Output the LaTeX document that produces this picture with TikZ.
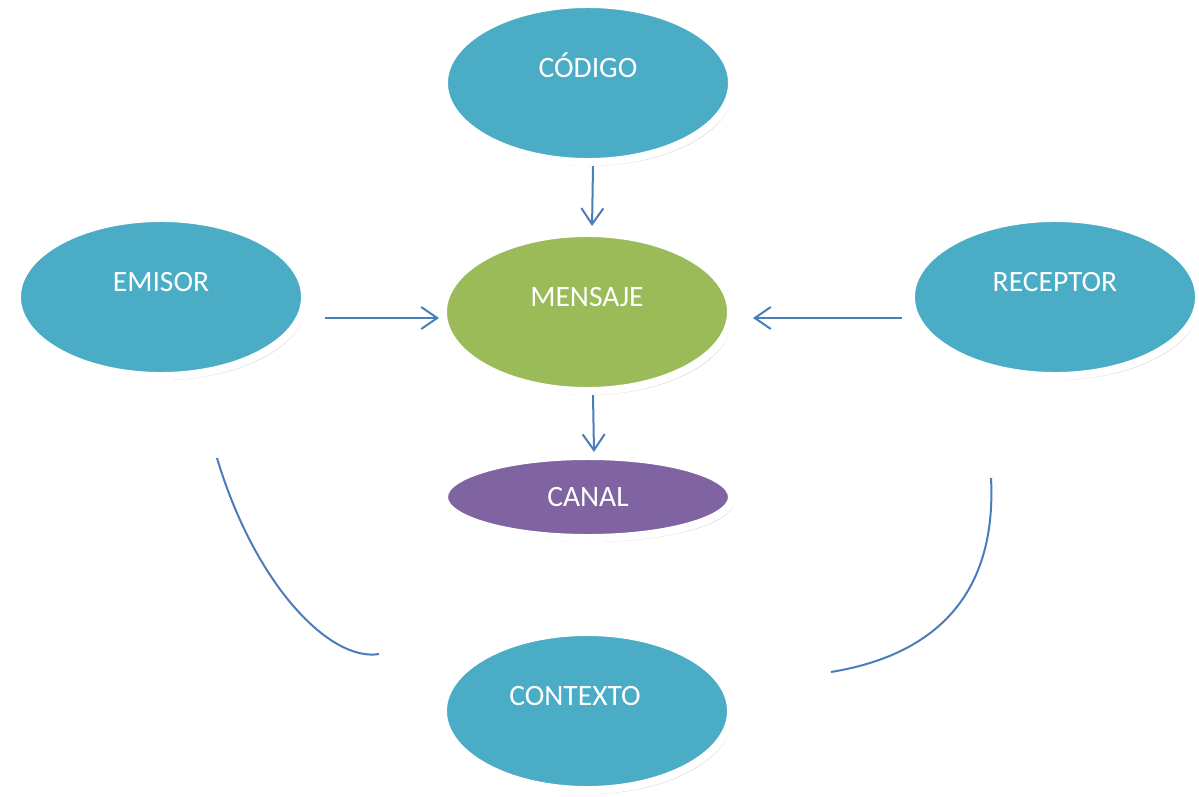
\documentclass[tikz,border=0pt]{standalone}
\usepackage{fontspec}
\setmainfont{Carlito}
\usetikzlibrary{positioning,arrows.meta,shapes.geometric,shadows}

\definecolor{azul}{HTML}{4BACC6}
\definecolor{verde}{HTML}{9BBB59}
\definecolor{morado}{HTML}{8064A2}
\definecolor{linea}{HTML}{4A7EBB}

\begin{document}
\begin{tikzpicture}[x=0.025cm,y=-0.025cm,
    elem/.style={ellipse,draw=white,line width=0.2cm,inner sep=0pt,
      minimum width=7.2cm,minimum height=3.95cm,text=white,
      font=\fontsize{21}{25}\selectfont,text height=0.475cm,text depth=0.75cm,
      drop shadow={shadow xshift=0.06cm,shadow yshift=-0.1cm,opacity=0.3}},
    flecha/.style={linea,line width=0.05cm,-{Straight Barb[length=0.4cm,width=0.55cm]}},
    arco/.style={linea,line width=0.05cm}]

    \useasboundingbox (0,0) rectangle (1199,797);

    % Set nodes
    \node[elem,fill=verde] (mensaje) at (587,312) {MENSAJE};
    \node[elem,fill=azul] (codigo) at (588,83) {CÓDIGO};
    \node[elem,fill=azul] (emisor) at (161,297) {EMISOR};
    \node[elem,fill=azul] (receptor) at (1055,297) {RECEPTOR};
    \node[elem,fill=morado,minimum height=2.05cm,text depth=0cm] (canal) at (588,497) {CANAL};
    \node[elem,fill=azul] (contexto) at (587,711) {CONTEXTO\kern0.6cm};

    % Set coordinates
    \coordinate (a1) at ([shift={(56,161)}]emisor.center);
    \coordinate (a2) at ([shift={(-208,-57)}]contexto.center);
    \coordinate (b1) at ([shift={(-64,181)}]receptor.center);
    \coordinate (b2) at ([shift={(244,-39)}]contexto.center);

    % Draw arrows
    \draw[flecha,shorten >=0.075cm] ([shift={(5,0)}]codigo.south) -- ([shift={(5,0)}]mensaje.north);
    \draw[flecha,shorten <=0.4cm] ([shift={(0,21)}]emisor.east) -- ([shift={(0,6)}]mensaje.west);
    \draw[flecha,shorten <=0.125cm,shorten >=0.45cm] ([shift={(0,21)}]receptor.west) -- ([shift={(0,6)}]mensaje.east);
    \draw[flecha] ([shift={(6,0)}]mensaje.south) -- ([shift={(6,0)}]canal.north);

    % Draw arcs
    \draw[arco] (a1) .. controls +(38,127) and +(-49,8) .. (a2);
    \draw[arco] (b1) .. controls +(6,117) and +(104,-17) .. (b2);
  \end{tikzpicture}
\end{document}
